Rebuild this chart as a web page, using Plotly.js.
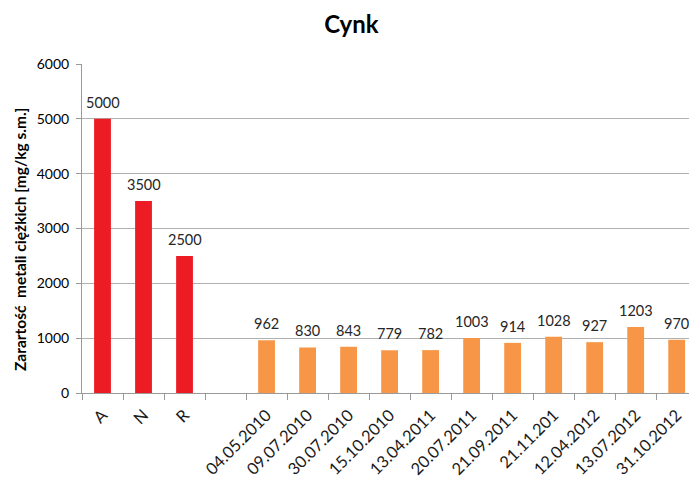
<!DOCTYPE html>
<html>
<head>
<meta charset="utf-8">
<script src="https://cdn.plot.ly/plotly-3.0.1.min.js"></script>
<style>html,body{margin:0;padding:0;background:#fff;}#chart{width:689px;height:484px;}</style>
</head>
<body>
<div id="chart"></div>
<script>
var categories = ["A", "N", "R", " ", "04.05.2010", "09.07.2010", "30.07.2010", "15.10.2010", "13.04.2011", "20.07.2011", "21.09.2011", "21.11.201", "12.04.2012", "13.07.2012", "31.10.2012"];
var normCats = ["A", "N", "R"];
var normValues = [5000, 3500, 2500];
var sampleCats = ["04.05.2010", "09.07.2010", "30.07.2010", "15.10.2010", "13.04.2011", "20.07.2011", "21.09.2011", "21.11.201", "12.04.2012", "13.07.2012", "31.10.2012"];
var sampleValues = [962, 830, 843, 779, 782, 1003, 914, 1028, 927, 1203, 970];
var yTicks = [0, 1000, 2000, 3000, 4000, 5000, 6000];

var FONT = "Lato, 'Open Sans', sans-serif";
var traces = [
  {type: "bar", x: normCats, y: normValues, marker: {color: "#ED1C24"}, hoverinfo: "x+y"},
  {type: "bar", x: sampleCats, y: sampleValues, marker: {color: "#F79646"}, hoverinfo: "x+y"}
];
var annotations = [];
function addLabels(xs, ys) {
  for (var i = 0; i < xs.length; i++) {
    annotations.push({x: xs[i], y: ys[i], xref: "x", yref: "y", text: String(ys[i]), showarrow: false,
      yanchor: "bottom", yshift: 6, font: {family: FONT, size: 14.5, color: "#262626"}});
  }
}
addLabels(normCats, normValues);
addLabels(sampleCats, sampleValues);
annotations.push({x: 0, xref: "paper", xanchor: "center", xshift: -62, y: 0.465, yref: "paper", yanchor: "middle",
  textangle: -90, showarrow: false, text: "<b>Zarartość  metali ciężkich [mg/kg s.m.]</b>",
  font: {family: FONT, size: 15.5, color: "#000"}});

var layout = {
  width: 689, height: 484,
  margin: {l: 82, r: 0, t: 63.5, b: 90.5},
  paper_bgcolor: "#fff", plot_bgcolor: "#fff",
  showlegend: false,
  barmode: "overlay",
  bargap: 0.59,
  font: {family: FONT, color: "#000"},
  title: {text: "<b>Cynk</b>", font: {family: FONT, size: 24, color: "#000"}, x: 0.51, xref: "container", y: 0.95, yref: "container", xanchor: "center", yanchor: "middle"},
  annotations: annotations,
  xaxis: {type: "category", categoryorder: "array", categoryarray: categories, range: [-0.5, 14.3],
          tickangle: -45, tickfont: {family: FONT, size: 16.5, color: "#1a1a1a"}, ticklabelstandoff: 5,
          showline: true, linecolor: "#9a9a9a", linewidth: 1, ticks: "outside", ticklen: 6, tickcolor: "#9a9a9a",
          tickson: "boundaries", showgrid: false, zeroline: false, fixedrange: true},
  yaxis: {range: [0, 6000], tickvals: yTicks, tickfont: {family: FONT, size: 14, color: "#000"},
          showline: true, linecolor: "#9a9a9a", linewidth: 1, ticks: "outside", ticklen: 5, tickcolor: "#9a9a9a",
          showgrid: true, gridcolor: "#b0b0b0", gridwidth: 1, zeroline: false, ticklabelstandoff: 4}
};
Plotly.newPlot("chart", traces, layout, {displayModeBar: false, staticPlot: true});
</script>
</body>
</html>
